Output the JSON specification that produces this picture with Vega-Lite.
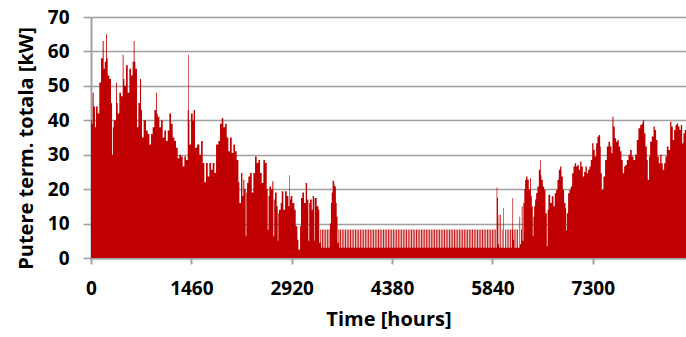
{
"$schema":"https://vega.github.io/schema/vega-lite/v6.json",
"width":595,"height":241,
"autosize":{"type":"none"},
"padding":{"left":91,"top":17,"right":0,"bottom":79},
"background":"white",
"config":{"view":{"stroke":null},"font":"Open Sans"},
"data":{"values":[
{"h":0,"p":40},{"h":12,"p":39},{"h":24,"p":48},{"h":39,"p":44},{"h":58,"p":38},{"h":73,"p":44},{"h":97,"p":42},{"h":121,"p":51},{"h":146,"p":58},{"h":170,"p":63},{"h":184,"p":55},{"h":200,"p":57},{"h":218,"p":65},{"h":230,"p":58},{"h":243,"p":53},{"h":267,"p":52},{"h":291,"p":45},{"h":306,"p":30},{"h":318,"p":38},{"h":330,"p":40},{"h":364,"p":51},{"h":376,"p":45},{"h":388,"p":42},{"h":412,"p":48},{"h":437,"p":47},{"h":461,"p":59},{"h":473,"p":52},{"h":485,"p":50},{"h":509,"p":56},{"h":534,"p":48},{"h":558,"p":55},{"h":582,"p":53},{"h":606,"p":57},{"h":621,"p":63},{"h":633,"p":57},{"h":645,"p":55},{"h":669,"p":38},{"h":689,"p":45},{"h":713,"p":52},{"h":728,"p":43},{"h":742,"p":35},{"h":766,"p":40},{"h":800,"p":37},{"h":825,"p":36},{"h":849,"p":33},{"h":873,"p":36},{"h":897,"p":38},{"h":922,"p":43},{"h":946,"p":48},{"h":958,"p":42},{"h":970,"p":41},{"h":994,"p":38},{"h":1019,"p":40},{"h":1043,"p":35},{"h":1067,"p":37},{"h":1091,"p":34},{"h":1116,"p":37},{"h":1140,"p":42},{"h":1164,"p":39},{"h":1188,"p":35},{"h":1213,"p":34},{"h":1237,"p":32},{"h":1261,"p":29},{"h":1285,"p":30},{"h":1310,"p":29.5},{"h":1334,"p":26.6},{"h":1358,"p":29.5},{"h":1382,"p":28.5},{"h":1407,"p":43},{"h":1416,"p":59},{"h":1425,"p":40},{"h":1431,"p":33},{"h":1455,"p":42},{"h":1479,"p":40},{"h":1494,"p":43},{"h":1513,"p":32},{"h":1542,"p":33},{"h":1576,"p":30},{"h":1601,"p":34},{"h":1625,"p":27.6},{"h":1649,"p":22},{"h":1673,"p":27.6},{"h":1698,"p":23.7},{"h":1722,"p":27.6},{"h":1746,"p":25.6},{"h":1770,"p":27.6},{"h":1795,"p":24.7},{"h":1819,"p":33},{"h":1853,"p":34},{"h":1877,"p":39},{"h":1901,"p":40.6},{"h":1925,"p":38},{"h":1950,"p":39},{"h":1974,"p":35},{"h":1998,"p":31},{"h":2022,"p":35},{"h":2047,"p":30.5},{"h":2071,"p":33},{"h":2095,"p":31},{"h":2119,"p":28.5},{"h":2144,"p":22},{"h":2158,"p":16},{"h":2182,"p":24.7},{"h":2202,"p":18},{"h":2216,"p":22.7},{"h":2231,"p":20},{"h":2250,"p":6.3},{"h":2260,"p":19},{"h":2270,"p":21.8},{"h":2289,"p":23.7},{"h":2313,"p":24.7},{"h":2338,"p":19},{"h":2362,"p":24.7},{"h":2386,"p":29.5},{"h":2410,"p":27.6},{"h":2435,"p":28.5},{"h":2459,"p":24.7},{"h":2483,"p":21.8},{"h":2507,"p":28.5},{"h":2532,"p":27.6},{"h":2556,"p":20},{"h":2570,"p":8.2},{"h":2582,"p":18},{"h":2595,"p":20.8},{"h":2619,"p":20},{"h":2638,"p":22.3},{"h":2653,"p":6.3},{"h":2665,"p":17},{"h":2677,"p":19},{"h":2701,"p":15},{"h":2716,"p":5},{"h":2725,"p":13},{"h":2735,"p":14},{"h":2759,"p":16},{"h":2774,"p":19.4},{"h":2798,"p":14},{"h":2823,"p":19.4},{"h":2847,"p":18},{"h":2871,"p":15},{"h":2886,"p":24},{"h":2895,"p":17},{"h":2905,"p":18},{"h":2929,"p":16},{"h":2958,"p":14},{"h":2978,"p":9.2},{"h":3002,"p":5.3},{"h":3017,"p":2.4},{"h":3041,"p":9.2},{"h":3055,"p":17.4},{"h":3075,"p":19},{"h":3099,"p":16},{"h":3123,"p":21.8},{"h":3143,"p":17},{"h":3162,"p":5},{"h":3174,"p":16},{"h":3186,"p":17},{"h":3211,"p":14},{"h":3225,"p":18},{"h":3244,"p":5},{"h":3252,"p":17.4},{"h":3283,"p":15},{"h":3308,"p":14},{"h":3320,"p":4.4},
{"h":3336,"p":8.3},{"h":3349,"p":3},{"h":3360,"p":8.3},{"h":3373,"p":3},{"h":3384,"p":8.3},{"h":3397,"p":3},{"h":3408,"p":8.3},{"h":3421,"p":3},{"h":3432,"p":8.3},{"h":3445,"p":3},{"h":3456,"p":8.3},{"h":3469,"p":3},
{"h":3477,"p":10},{"h":3490,"p":16},{"h":3502,"p":19},{"h":3514,"p":22.5},{"h":3526,"p":22.3},{"h":3538,"p":21},{"h":3550,"p":20.8},{"h":3562,"p":16},{"h":3574,"p":12},{"h":3586,"p":4.4},
{"h":3600,"p":8.3},{"h":3613,"p":3},{"h":3624,"p":8.3},{"h":3637,"p":3},{"h":3648,"p":8.3},{"h":3661,"p":3},{"h":3672,"p":8.3},{"h":3685,"p":3},{"h":3696,"p":8.3},{"h":3709,"p":3},{"h":3720,"p":8.3},{"h":3733,"p":3},{"h":3744,"p":8.3},{"h":3757,"p":3},{"h":3768,"p":8.3},{"h":3781,"p":3},{"h":3792,"p":8.3},{"h":3805,"p":3},{"h":3816,"p":8.3},{"h":3829,"p":3},{"h":3840,"p":8.3},{"h":3853,"p":3},{"h":3864,"p":8.3},{"h":3877,"p":3},{"h":3888,"p":8.3},{"h":3901,"p":3},{"h":3912,"p":8.3},{"h":3925,"p":3},{"h":3936,"p":8.3},{"h":3949,"p":3},{"h":3960,"p":8.3},{"h":3973,"p":3},{"h":3984,"p":8.3},{"h":3997,"p":3},{"h":4008,"p":8.3},{"h":4021,"p":3},{"h":4032,"p":8.3},{"h":4045,"p":3},{"h":4056,"p":8.3},{"h":4069,"p":3},{"h":4080,"p":8.3},{"h":4093,"p":3},{"h":4104,"p":8.3},{"h":4117,"p":3},{"h":4128,"p":8.3},{"h":4141,"p":3},{"h":4152,"p":8.3},{"h":4165,"p":3},{"h":4176,"p":8.3},{"h":4189,"p":3},{"h":4200,"p":8.3},{"h":4213,"p":3},{"h":4224,"p":8.3},{"h":4237,"p":3},{"h":4248,"p":8.3},{"h":4261,"p":3},{"h":4272,"p":8.3},{"h":4285,"p":3},{"h":4296,"p":8.3},{"h":4309,"p":3},{"h":4320,"p":8.3},{"h":4333,"p":3},{"h":4344,"p":8.3},{"h":4357,"p":3},{"h":4368,"p":8.3},{"h":4381,"p":3},{"h":4392,"p":8.3},{"h":4405,"p":3},{"h":4416,"p":8.3},{"h":4429,"p":3},{"h":4440,"p":8.3},{"h":4453,"p":3},{"h":4464,"p":8.3},{"h":4477,"p":3},{"h":4488,"p":8.3},{"h":4501,"p":3},{"h":4512,"p":8.3},{"h":4525,"p":3},{"h":4536,"p":8.3},{"h":4549,"p":3},{"h":4560,"p":8.3},{"h":4573,"p":3},{"h":4584,"p":8.3},{"h":4597,"p":3},{"h":4608,"p":8.3},{"h":4621,"p":3},{"h":4632,"p":8.3},{"h":4645,"p":3},{"h":4656,"p":8.3},{"h":4669,"p":3},{"h":4680,"p":8.3},{"h":4693,"p":3},{"h":4704,"p":8.3},{"h":4717,"p":3},{"h":4728,"p":8.3},{"h":4741,"p":3},{"h":4752,"p":8.3},{"h":4765,"p":3},{"h":4776,"p":8.3},{"h":4789,"p":3},{"h":4800,"p":8.3},{"h":4813,"p":3},{"h":4824,"p":8.3},{"h":4837,"p":3},{"h":4848,"p":8.3},{"h":4861,"p":3},{"h":4872,"p":8.3},{"h":4885,"p":3},{"h":4896,"p":8.3},{"h":4909,"p":3},{"h":4920,"p":8.3},{"h":4933,"p":3},{"h":4944,"p":8.3},{"h":4957,"p":3},{"h":4968,"p":8.3},{"h":4981,"p":3},{"h":4992,"p":8.3},{"h":5005,"p":3},{"h":5016,"p":8.3},{"h":5029,"p":3},{"h":5040,"p":8.3},{"h":5053,"p":3},{"h":5064,"p":8.3},{"h":5077,"p":3},{"h":5088,"p":8.3},{"h":5101,"p":3},{"h":5112,"p":8.3},{"h":5125,"p":3},{"h":5136,"p":8.3},{"h":5149,"p":3},{"h":5160,"p":8.3},{"h":5173,"p":3},{"h":5184,"p":8.3},{"h":5197,"p":3},{"h":5208,"p":8.3},{"h":5221,"p":3},{"h":5232,"p":8.3},{"h":5245,"p":3},{"h":5256,"p":8.3},{"h":5269,"p":3},{"h":5280,"p":8.3},{"h":5293,"p":3},{"h":5304,"p":8.3},{"h":5317,"p":3},{"h":5328,"p":8.3},{"h":5341,"p":3},{"h":5352,"p":8.3},{"h":5365,"p":3},{"h":5376,"p":8.3},{"h":5389,"p":3},{"h":5400,"p":8.3},{"h":5413,"p":3},{"h":5424,"p":8.3},{"h":5437,"p":3},{"h":5448,"p":8.3},{"h":5461,"p":3},{"h":5472,"p":8.3},{"h":5485,"p":3},{"h":5496,"p":8.3},{"h":5509,"p":3},{"h":5520,"p":8.3},{"h":5533,"p":3},{"h":5544,"p":8.3},{"h":5557,"p":3},{"h":5568,"p":8.3},{"h":5581,"p":3},{"h":5592,"p":8.3},{"h":5605,"p":3},{"h":5616,"p":8.3},{"h":5629,"p":3},{"h":5640,"p":8.3},{"h":5653,"p":3},{"h":5664,"p":8.3},{"h":5677,"p":3},{"h":5688,"p":8.3},{"h":5701,"p":3},{"h":5712,"p":8.3},{"h":5725,"p":3},{"h":5736,"p":8.3},{"h":5749,"p":3},{"h":5760,"p":8.3},{"h":5773,"p":3},{"h":5784,"p":8.3},{"h":5797,"p":3},{"h":5808,"p":8.3},{"h":5821,"p":3},{"h":5832,"p":8.3},{"h":5845,"p":3},{"h":5856,"p":8.3},{"h":5869,"p":3},
{"h":5880,"p":8.3},{"h":5890,"p":3},{"h":5900,"p":20.5},{"h":5910,"p":17.5},{"h":5920,"p":4},{"h":5930,"p":12.5},{"h":5940,"p":3},{"h":5950,"p":12.6},{"h":5960,"p":3},{"h":5976,"p":8.3},{"h":5986,"p":3},{"h":5999,"p":14.6},{"h":6008,"p":3},{"h":6024,"p":8.3},{"h":6036,"p":3},{"h":6048,"p":8.3},{"h":6060,"p":3},{"h":6072,"p":8.3},{"h":6084,"p":3},{"h":6096,"p":8.3},{"h":6108,"p":3},{"h":6120,"p":8.3},{"h":6130,"p":17.4},{"h":6140,"p":5.3},{"h":6150,"p":8.3},{"h":6162,"p":3},{"h":6175,"p":8.3},{"h":6187,"p":3},{"h":6200,"p":8.3},{"h":6212,"p":3},{"h":6232,"p":12},{"h":6242,"p":4},{"h":6256,"p":8.3},{"h":6266,"p":15},{"h":6278,"p":5},{"h":6290,"p":16},{"h":6303,"p":20},{"h":6315,"p":22.7},{"h":6329,"p":23.7},{"h":6349,"p":22.7},{"h":6368,"p":19.8},{"h":6388,"p":23.2},{"h":6400,"p":18},{"h":6412,"p":15},{"h":6426,"p":6.3},{"h":6436,"p":12},{"h":6446,"p":15},{"h":6460,"p":17},{"h":6475,"p":18.8},{"h":6494,"p":20.8},{"h":6514,"p":25.6},{"h":6533,"p":28.5},{"h":6543,"p":24},{"h":6552,"p":22.7},{"h":6572,"p":20.8},{"h":6591,"p":19.8},{"h":6611,"p":13},{"h":6630,"p":3.4},{"h":6642,"p":14},{"h":6654,"p":18.4},{"h":6679,"p":16},{"h":6703,"p":17.9},{"h":6727,"p":15},{"h":6746,"p":18.8},{"h":6766,"p":19.8},{"h":6785,"p":22.7},{"h":6805,"p":25.6},{"h":6824,"p":26.6},{"h":6843,"p":23.7},{"h":6863,"p":19.8},{"h":6882,"p":16},{"h":6902,"p":14.5},{"h":6911,"p":8},{"h":6921,"p":13},{"h":6940,"p":18.8},{"h":6960,"p":19.8},{"h":6979,"p":20.8},{"h":6999,"p":24.6},{"h":7018,"p":26.6},{"h":7037,"p":27.5},{"h":7057,"p":26.6},{"h":7076,"p":27},{"h":7096,"p":25.6},{"h":7115,"p":28},{"h":7134,"p":26.6},{"h":7154,"p":23.7},{"h":7173,"p":25},{"h":7193,"p":26.6},{"h":7212,"p":24.6},{"h":7231,"p":25.6},{"h":7251,"p":26.6},{"h":7270,"p":28.5},{"h":7290,"p":33.3},{"h":7309,"p":31.4},{"h":7328,"p":29.5},{"h":7348,"p":33.3},{"h":7367,"p":35.3},{"h":7387,"p":35.7},{"h":7406,"p":32.4},
{"h":7415,"p":24.6},{"h":7430,"p":19.8},{"h":7454,"p":23.7},{"h":7478,"p":28.5},{"h":7503,"p":32.4},{"h":7527,"p":33.8},{"h":7551,"p":32.4},{"h":7570,"p":30.4},{"h":7585,"p":41},{"h":7600,"p":38.2},{"h":7619,"p":34.8},{"h":7638,"p":33.8},{"h":7658,"p":34.3},{"h":7677,"p":32.4},{"h":7697,"p":31},{"h":7716,"p":28.5},{"h":7735,"p":24.6},{"h":7755,"p":26.6},{"h":7774,"p":27},{"h":7794,"p":28.5},{"h":7818,"p":30},{"h":7842,"p":31.4},{"h":7866,"p":29.5},{"h":7891,"p":28.5},{"h":7915,"p":30},{"h":7939,"p":34.3},{"h":7963,"p":37.7},{"h":7988,"p":38.6},{"h":8012,"p":39.1},{"h":8026,"p":40},{"h":8046,"p":36.2},{"h":8065,"p":32.4},{"h":8085,"p":28.5},{"h":8099,"p":22.7},{"h":8118,"p":29.5},{"h":8133,"p":33.8},{"h":8157,"p":35.3},{"h":8182,"p":38.2},{"h":8201,"p":37.2},{"h":8220,"p":34.3},{"h":8240,"p":29.5},{"h":8259,"p":27.5},{"h":8279,"p":30},{"h":8298,"p":27.5},{"h":8317,"p":25.6},{"h":8337,"p":27.5},{"h":8356,"p":29.5},{"h":8376,"p":32.4},{"h":8400,"p":31.4},{"h":8424,"p":39.6},{"h":8443,"p":38.2},{"h":8463,"p":34.3},{"h":8482,"p":37.2},{"h":8502,"p":38.6},{"h":8521,"p":39.1},{"h":8540,"p":38.2},{"h":8560,"p":37.2},{"h":8579,"p":38.6},{"h":8599,"p":33.3},{"h":8618,"p":36.2},{"h":8637,"p":37.2},{"h":8657,"p":36.5},{"h":8680,"p":36.5}
]},
"mark":{"type":"area","interpolate":"step-after","color":"#c00000","clip":true},
"encoding":{
"x":{"field":"h","type":"quantitative","scale":{"domain":[0,8655],"nice":false,"zero":false},
"axis":{"values":[0,1460,2920,4380,5840,7300],"format":"d","grid":false,"labelFlush":false,"domainColor":"#a0a0a0","domainWidth":2,"tickColor":"#a0a0a0","tickWidth":2,"tickSize":6,"labelFont":"Open Sans","labelFontWeight":"bold","labelFontSize":19,"labelColor":"#000000","labelPadding":15,"title":"Time [hours]","titleFont":"Open Sans","titleFontSize":20,"titleFontWeight":"bold","titleColor":"#000000","titlePadding":11}},
"y":{"field":"p","type":"quantitative","scale":{"domain":[0,70],"nice":false},
"axis":{"values":[0,10,20,30,40,50,60,70],"format":"d","grid":true,"gridColor":"#a0a0a0","gridWidth":1.6,"labelFlush":false,"domainColor":"#a0a0a0","domainWidth":2,"tickColor":"#a0a0a0","tickWidth":1.6,"tickSize":8,"labelFont":"Open Sans","labelFontWeight":"bold","labelFontSize":19,"labelColor":"#000000","labelPadding":14,"title":"Putere term. totala [kW]","titleFont":"Open Sans","titleFontSize":20,"titleFontWeight":"bold","titleColor":"#000000","titlePadding":11,"titleY":131}}
}
}
